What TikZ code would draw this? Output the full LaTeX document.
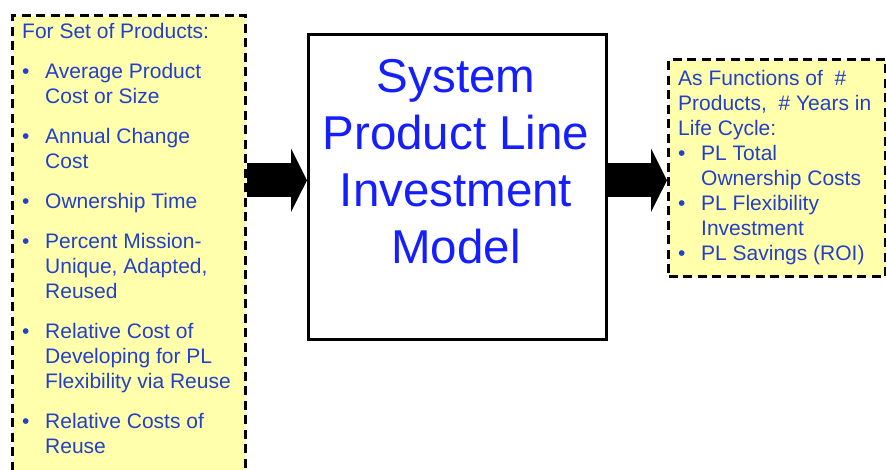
\documentclass[tikz,border=0pt]{standalone}
\usepackage{fontspec}
\setmainfont{Liberation Sans}
\usetikzlibrary{positioning,arrows.meta,calc}
\definecolor{noteyellow}{RGB}{255,255,172}
\definecolor{notetext}{RGB}{34,64,204}
\definecolor{titleblue}{RGB}{20,30,255}
\tikzset{
    x=1pt,
    y=-1pt,
    notebox/.style = {
        draw,
        shape=rectangle,
        fill=noteyellow,
        line width=3pt,
        dash pattern=on 9pt off 5.5pt,
        anchor=north west,
        inner sep=0pt
    },
    modelbox/.style = {
        draw,
        shape=rectangle,
        fill=white,
        line width=2.6pt,
        anchor=north west,
        inner sep=0pt
    },
    notetext/.style = {
        anchor=base west,
        inner sep=0pt,
        text=notetext,
        font=\fontsize{21}{25}\selectfont
    },
    titletext/.style = {
        anchor=base,
        inner sep=0pt,
        text=titleblue,
        font=\fontsize{47.5}{57}\selectfont
    },
    blockarrow/.style = {
        line width=34pt,
        -{Triangle[length=16pt,width=63pt]}
    },
}
\begin{document}
\begin{tikzpicture}
    \useasboundingbox (0,0) rectangle (886,469);

    \node[notebox, minimum width=233pt, minimum height=480pt] (inputs) at (11,14) {};
    \node[modelbox, minimum width=298pt, minimum height=305pt] (model) at (307,33) {};
    \node[notebox, minimum width=217pt, minimum height=217pt] (outputs) at (667,58) {};

    \node[notetext] (inputlist) at (22,38) {\begin{tabular}[t]{@{}p{23pt}@{}l@{}}
        \multicolumn{2}{@{}l@{}}{For Set of Products:}\\[15pt]
        \textbullet & Average Product\\
                    & Cost or Size\\[15pt]
        \textbullet & Annual Change\\
                    & Cost\\[15pt]
        \textbullet & Ownership Time\\[15pt]
        \textbullet & Percent Mission-\\
                    & Unique, Adapted,\\
                    & Reused\\[15pt]
        \textbullet & Relative Cost of\\
                    & Developing for PL\\
                    & Flexibility via Reuse\\[15pt]
        \textbullet & Relative Costs of\\
                    & Reuse
    \end{tabular}};

    \node[titletext] (title) at (456,92) {\begin{tabular}[t]{@{}c@{}}
        System\\
        Product Line\\
        Investment\\
        Model
    \end{tabular}};

    \node[notetext] (outputlist) at (678,85) {\begin{tabular}[t]{@{}p{23pt}@{}l@{}}
        \multicolumn{2}{@{}l@{}}{As Functions of~ \#}\\
        \multicolumn{2}{@{}l@{}}{Products,~ \# Years in}\\
        \multicolumn{2}{@{}l@{}}{Life Cycle:}\\
        \textbullet & PL Total\\
                    & Ownership Costs\\
        \textbullet & PL Flexibility\\
                    & Investment\\
        \textbullet & PL Savings (ROI)
    \end{tabular}};

    % block arrows in and out of the model
    \coordinate (modelin) at ([yshift=6.5pt]model.west);
    \coordinate (modelout) at ([yshift=6.5pt]model.east);
    \draw[blockarrow] (inputs.east |- modelin) -- (modelin);
    \draw[blockarrow] (modelout) -- (outputs.west |- modelout);
\end{tikzpicture}
\end{document}
